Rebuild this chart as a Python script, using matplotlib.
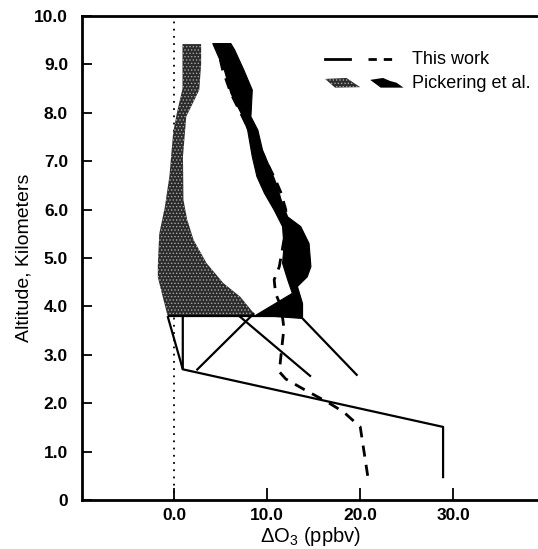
import matplotlib
matplotlib.use("Agg")
import matplotlib.pyplot as plt
from matplotlib.patches import Polygon

plt.rcParams['font.family'] = ['Liberation Sans', 'DejaVu Sans']
plt.rcParams['mathtext.fontset'] = 'custom'
plt.rcParams['mathtext.rm'] = 'Liberation Sans'
plt.rcParams['mathtext.it'] = 'Liberation Sans:italic'
plt.rcParams['hatch.color'] = '#a8a8a8'
plt.rcParams['hatch.linewidth'] = 0.6

# "This work" solid line profile (dO3 ppbv, altitude km)
solid_x = [28.9, 28.9, 0.93, 0.93]
solid_y = [0.45, 1.51, 2.70, 3.80]
# solid branch from the kink up to the grey envelope
branch_x = [0.93, -0.70]
branch_y = [2.70, 3.80]
# horizontal base of the envelopes
base_x = [-0.70, 13.8]
base_y = [3.80, 3.80]
# three slanted solid segments
seg1_x = [2.4, 8.6]
seg1_y = [2.68, 3.86]
seg2_x = [7.0, 14.7]
seg2_y = [3.80, 2.55]
seg3_x = [13.8, 19.7]
seg3_y = [3.75, 2.57]

# "This work" dashed profile
dash_x = [20.8, 20.0, 18.2, 16.5, 14.0, 12.0, 11.3, 11.6, 11.8, 11.5, 10.9,
          10.75, 11.3, 11.6, 12.0, 12.0, 11.8, 11.5, 10.9, 10.0, 9.0, 7.7,
          6.8, 6.1, 5.2, 4.6]
dash_y = [0.50, 1.51, 1.82, 2.02, 2.28, 2.50, 2.65, 3.20, 3.55, 3.99, 4.27,
          4.55, 4.82, 5.15, 5.60, 6.00, 6.13, 6.34, 6.61, 6.96, 7.35, 7.78,
          8.13, 8.40, 8.90, 9.40]

# Pickering et al. grey envelope
grey_x = [0.90, 0.90, 0.30, -0.10, -0.50, -1.00, -1.60, -1.75, -1.75, -0.70,
          8.60, 8.60, 7.10, 5.30, 3.50, 2.10, 1.40, 1.00, 0.95, 1.30, 2.70,
          2.90, 2.90]
grey_y = [9.42, 8.50, 8.00, 7.60, 6.70, 6.05, 5.50, 4.85, 4.60, 3.80,
          3.80, 3.85, 4.20, 4.48, 4.89, 5.37, 5.79, 6.20, 7.10, 7.92, 8.47,
          9.00, 9.42]

# Pickering et al. black envelope
black_x = [4.15, 6.10, 6.50, 7.50, 8.40, 8.25, 9.00, 9.50, 10.4, 11.1, 11.5,
           12.2, 13.6, 14.5, 14.7, 14.3, 13.25, 13.8, 13.8, 8.80, 12.7,
           12.2, 11.65, 11.8, 11.65, 10.75, 9.70, 8.90, 8.40, 7.90, 7.20,
           6.10, 5.40]
black_y = [9.43, 9.43, 9.30, 8.88, 8.47, 7.92, 7.64, 7.23, 6.82, 6.47, 6.20,
           5.85, 5.65, 5.30, 4.82, 4.61, 4.41, 4.06, 3.75, 3.82, 4.27,
           4.55, 4.89, 5.23, 5.65, 5.99, 6.34, 6.68, 7.09, 7.64, 7.99,
           8.40, 8.88]

yticks = [0, 1, 2, 3, 4, 5, 6, 7, 8, 9, 10]
ytick_labels = ['0', '1.0', '2.0', '3.0', '4.0', '5.0', '6.0', '7.0', '8.0',
                '9.0', '10.0']
xticks = [0, 10, 20, 30]
xtick_labels = ['0.0', '10.0', '20.0', '30.0']

fig = plt.figure(figsize=(5.38, 5.49), dpi=100)
ax = fig.add_axes([82 / 538, 49 / 549, 456 / 538, 484 / 549])

ax.axvline(0, color='black', lw=1.3, ls=(0, (1, 3)), zorder=1)

ax.plot(dash_x, dash_y, color='black', lw=2.0, ls=(0, (4, 3)), zorder=2)

ax.add_patch(Polygon(list(zip(grey_x, grey_y)), closed=True,
                     facecolor='#2b2b2b', hatch='.....', lw=0, zorder=3))
ax.add_patch(Polygon(list(zip(black_x, black_y)), closed=True,
                     facecolor='black', edgecolor='black', lw=0.8, zorder=3))

for xs, ys in [(solid_x, solid_y), (branch_x, branch_y), (base_x, base_y),
               (seg1_x, seg1_y), (seg2_x, seg2_y), (seg3_x, seg3_y)]:
    ax.plot(xs, ys, color='black', lw=1.6, solid_capstyle='butt', zorder=4)

ax.set_xlim(-9.9, 39.1)
ax.set_ylim(0, 10)
ax.set_yticks(yticks)
ax.set_yticklabels(ytick_labels, fontsize=12.5, fontweight='bold')
ax.set_xticks(xticks)
ax.set_xticklabels(xtick_labels, fontsize=12.5, fontweight='bold')
ax.tick_params(axis='y', direction='in', length=7.5, width=1.3, pad=10)
ax.tick_params(axis='x', direction='in', length=9, width=1.3, pad=6)

for side in ['left', 'bottom', 'top']:
    ax.spines[side].set_linewidth(2.0)
ax.spines['right'].set_visible(False)

ax.set_ylabel('Altitude, Kilometers', fontsize=14, labelpad=1)
ax.set_xlabel(r'$\Delta\mathrm{O}_3$ (ppbv)', fontsize=14.5, labelpad=1)

# legend drawn by hand
T = ax.transAxes
ax.plot([0.533, 0.588], [0.911, 0.911], color='black', lw=2.0, transform=T,
        clip_on=False)
ax.plot([0.628, 0.682], [0.911, 0.911], color='black', lw=2.0,
        ls=(0, (3, 2.5)), transform=T, clip_on=False)
ax.text(0.724, 0.911, 'This work', fontsize=13, va='center', ha='left',
        transform=T)
ax.add_patch(Polygon([(0.533, 0.870), (0.580, 0.872), (0.610, 0.853),
                      (0.555, 0.852)], closed=True, transform=T,
                     facecolor='#2b2b2b', hatch='.....', lw=0))
ax.add_patch(Polygon([(0.632, 0.868), (0.660, 0.872), (0.675, 0.866),
                      (0.690, 0.862), (0.705, 0.852), (0.655, 0.852)],
                     closed=True, transform=T, facecolor='black', lw=0))
ax.text(0.724, 0.860, 'Pickering et al.', fontsize=13, va='center',
        ha='left', transform=T)

fig.savefig('out.png', dpi=100)
